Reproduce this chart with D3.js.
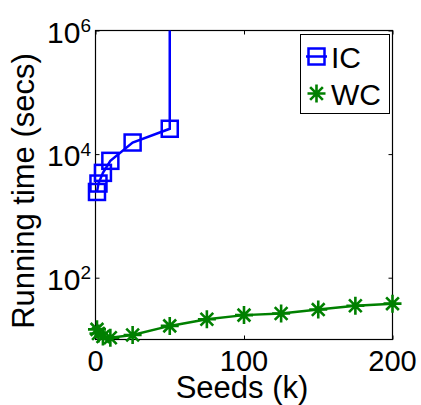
<!DOCTYPE html>
<html>
<head>
<meta charset="utf-8">
<script src="https://cdn.jsdelivr.net/npm/d3@7/dist/d3.min.js"></script>
<style>
  html, body { margin: 0; padding: 0; background: #fff; }
  svg { display: block; font-family: "Liberation Sans", Arial, Helvetica, sans-serif; }
</style>
</head>
<body>
<svg id="chart" width="421" height="405"></svg>
<script>
// ---- data ----
const icSeeds = [1, 2, 5, 10, 25, 50];
const icTime  = [2440, 3340, 4970, 7780, 15400, 25700];
const icTimeoutSeed = 50;      // IC did not finish beyond this point (line runs off the top)
const icTimeoutTime = 1e9;

const wcSeeds = [1, 2, 5, 10, 25, 50, 75, 100, 125, 150, 175, 200];
const wcTime  = [14.6, 12.5, 11.2, 10.7, 11.8, 16.6, 21.3, 24.8, 26.3, 30.5, 35.1, 38.0];

const xTicks = [0, 100, 200];
const yTickExps = [2, 4, 6];

const seriesNames = ["IC", "WC"];
const blue = "#0000ff", green = "#008000";

// ---- layout ----
const svg = d3.select("#chart");
const L = 95.5, R = 392.5, T = 30.5, B = 339.5;

const x = d3.scaleLinear().domain([0, 200]).range([L, R]);
const y = d3.scaleLog().domain([10, 1e6]).range([B, T]);

svg.append("defs").append("clipPath").attr("id", "plotclip")
  .append("rect").attr("x", L).attr("y", T).attr("width", R - L).attr("height", B - T);

// ticks (inward, both sides like MATLAB box)
const tickLen = 4;
const axB = svg.append("g").attr("transform", `translate(0,${B})`)
  .call(d3.axisBottom(x).tickValues(xTicks).tickSizeInner(-tickLen).tickSizeOuter(0).tickFormat(""));
const axT = svg.append("g").attr("transform", `translate(0,${T})`)
  .call(d3.axisTop(x).tickValues(xTicks).tickSizeInner(-tickLen).tickSizeOuter(0).tickFormat(""));
const yTickVals = yTickExps.map(e => Math.pow(10, e));
const axL = svg.append("g").attr("transform", `translate(${L},0)`)
  .call(d3.axisLeft(y).tickValues(yTickVals).tickSizeInner(-tickLen).tickSizeOuter(0).tickFormat(""));
const axR = svg.append("g").attr("transform", `translate(${R},0)`)
  .call(d3.axisRight(y).tickValues(yTickVals).tickSizeInner(-tickLen).tickSizeOuter(0).tickFormat(""));
[axB, axT, axL, axR].forEach(g => {
  g.select(".domain").remove();
  g.selectAll(".tick line").attr("stroke", "#000").attr("stroke-width", 1);
});

// box
svg.append("rect").attr("x", L).attr("y", T).attr("width", R - L).attr("height", B - T)
  .attr("fill", "none").attr("stroke", "#000").attr("stroke-width", 1.2);

// x tick labels
svg.append("g").selectAll("text").data(xTicks).join("text")
  .attr("x", d => x(d)).attr("y", 371)
  .attr("text-anchor", "middle").attr("font-size", 29).attr("fill", "#000")
  .text(d => d);

// y tick labels 10^n
const yl = svg.append("g").selectAll("text").data(yTickExps).join("text")
  .attr("x", 91).attr("y", d => y(Math.pow(10, d)) + 12)
  .attr("text-anchor", "end").attr("fill", "#000");
yl.append("tspan").attr("font-size", 30).text("10");
yl.append("tspan").attr("font-size", 19).attr("dy", -10.5).text(d => d);

// axis labels
svg.append("text").attr("x", 242).attr("y", 398).attr("text-anchor", "middle")
  .attr("font-size", 31).attr("fill", "#000").text("Seeds (k)");
svg.append("text").attr("transform", "translate(34,191) rotate(-90)").attr("text-anchor", "middle")
  .attr("font-size", 31).attr("fill", "#000").text("Running time (secs)");

// series
const plot = svg.append("g").attr("clip-path", "url(#plotclip)");
const line = d3.line().x(d => x(d[0])).y(d => y(d[1]));

const icPts = icSeeds.map((k, i) => [k, icTime[i]]);
const icLinePts = icPts.concat([[icTimeoutSeed, icTimeoutTime]]);
const wcPts = wcSeeds.map((k, i) => [k, wcTime[i]]);

plot.append("path").datum(icLinePts).attr("d", line)
  .attr("fill", "none").attr("stroke", blue).attr("stroke-width", 2.5);
plot.append("path").datum(wcPts).attr("d", line)
  .attr("fill", "none").attr("stroke", green).attr("stroke-width", 2.5);

const sq = 16;
function square(g, cx, cy) {
  g.append("rect").attr("x", cx - sq / 2).attr("y", cy - sq / 2).attr("width", sq).attr("height", sq)
    .attr("fill", "none").attr("stroke", blue).attr("stroke-width", 2.5);
}
const starR = 9;
function star(g, cx, cy) {
  const p = [];
  for (let a = 0; a < 4; a++) {
    const ang = a * Math.PI / 4;
    const dx = starR * Math.cos(ang), dy = starR * Math.sin(ang);
    p.push(`M${cx - dx},${cy - dy}L${cx + dx},${cy + dy}`);
  }
  g.append("path").attr("d", p.join("")).attr("stroke", green).attr("stroke-width", 2.6).attr("fill", "none");
}
svg.append("g").selectAll("g").data(icPts).join("g").each(function(d) { square(d3.select(this), x(d[0]), y(d[1])); });
svg.append("g").selectAll("g").data(wcPts).join("g").each(function(d) { star(d3.select(this), x(d[0]), y(d[1])); });

// legend
const lg = svg.append("g");
lg.append("rect").attr("x", 300.5).attr("y", 34.5).attr("width", 89).attr("height", 79)
  .attr("fill", "#fff").attr("stroke", "#000").attr("stroke-width", 1);
lg.append("line").attr("x1", 306).attr("x2", 327).attr("y1", 56.5).attr("y2", 56.5)
  .attr("stroke", blue).attr("stroke-width", 2.5);
square(lg, 316.5, 56.5);
star(lg, 316.5, 93.5);
lg.selectAll("text.lbl").data(seriesNames).join("text").attr("class", "lbl")
  .attr("x", 331).attr("y", (d, i) => 67.5 + i * 37)
  .attr("font-size", 30).attr("fill", "#000").text(d => d);
</script>
</body>
</html>
